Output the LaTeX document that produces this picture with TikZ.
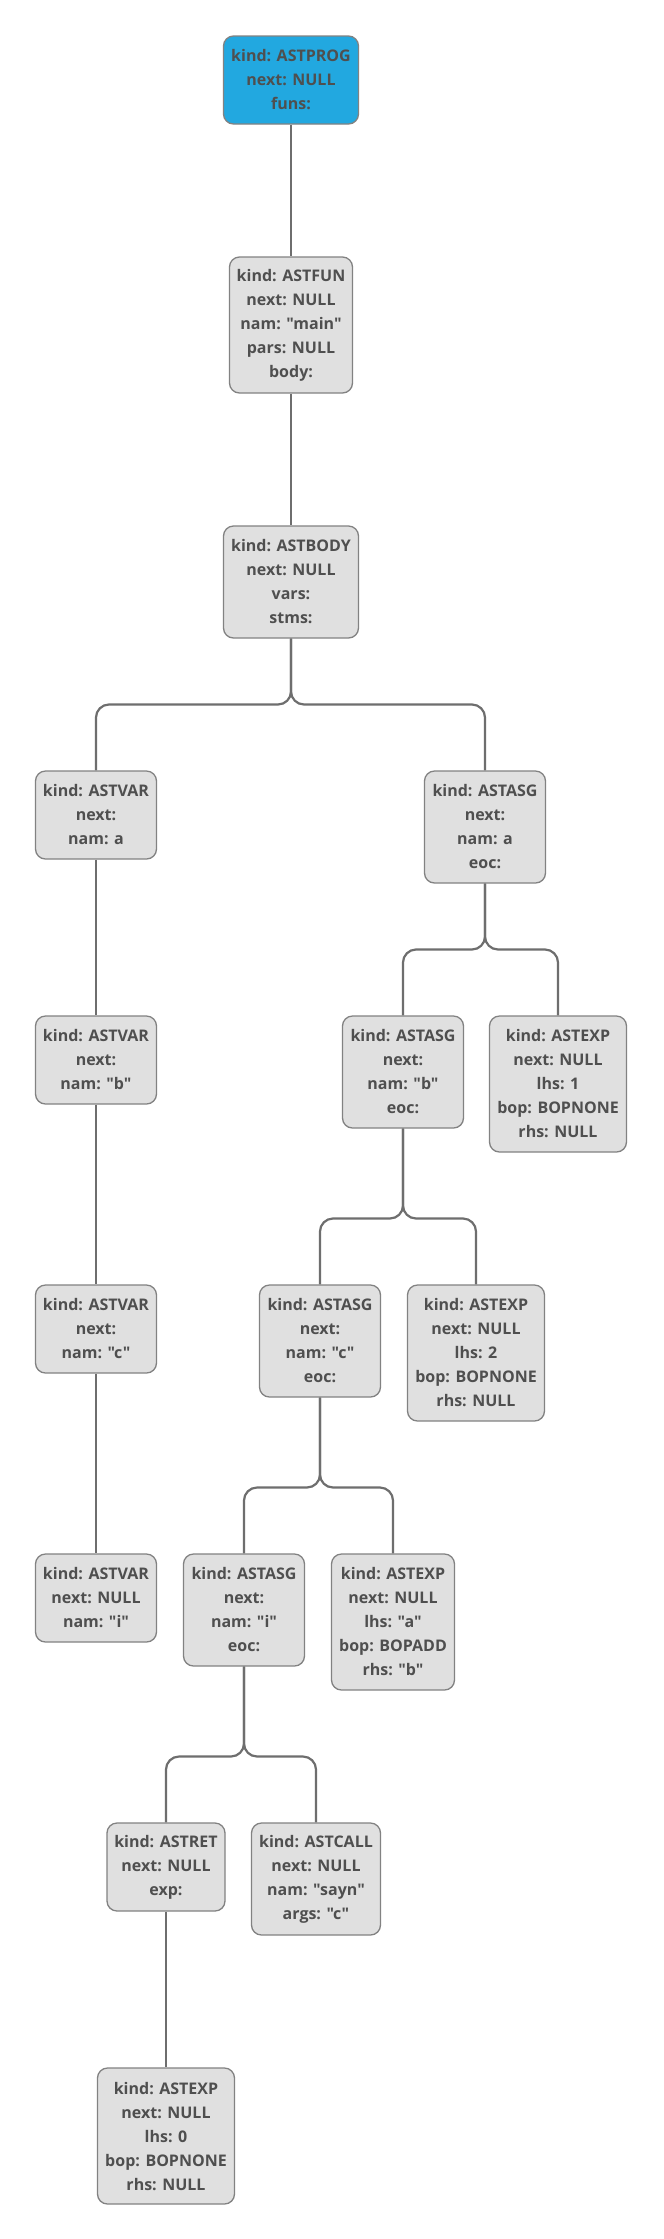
\documentclass[tikz,border=0pt]{standalone}
\usepackage{fontspec}
\setmainfont{Open Sans}[Ligatures=TeXOff]
\definecolor{boxfill}{HTML}{E0E0E0}
\definecolor{boxline}{HTML}{828282}
\definecolor{edgecol}{HTML}{6E6E6E}
\definecolor{txt}{HTML}{4F4F4F}
\definecolor{progblue}{HTML}{22A8E0}
\begin{document}
\begin{tikzpicture}[x=1pt,y=-1pt,
  box/.style n args={2}{draw=boxline, line width=1.3pt, fill=boxfill,
    rounded corners=10pt, align=center, text=txt,
    font=\fontsize{16}{24}\selectfont\bfseries, inner sep=0pt,
    minimum width=#1, minimum height=#2},
  edge/.style={draw=edgecol, line width=2.2pt, rounded corners=13pt}]
\useasboundingbox (0,0) rectangle (664,2239);
\fill[white] (0,0) rectangle (664,2239);
% rank 0-2
\node[box={135pt}{88pt}, fill=progblue] (prog) at (291,80) {kind: ASTPROG\\next: NULL\\funs:};
\node[box={123pt}{136pt}] (fun) at (291,325) {kind: ASTFUN\\next: NULL\\nam: "main"\\pars: NULL\\body:};
\node[box={135pt}{112pt}] (body) at (291,582) {kind: ASTBODY\\next: NULL\\vars:\\stms:};
% rank 3
\node[box={121pt}{88pt}] (vara) at (96,815) {kind: ASTVAR\\next:\\nam: a};
\node[box={121pt}{112pt}] (asga) at (485,827) {kind: ASTASG\\next:\\nam: a\\eoc:};
% rank 4
\node[box={121pt}{88pt}] (varb) at (96,1060) {kind: ASTVAR\\next:\\nam: "b"};
\node[box={121pt}{112pt}] (asgb) at (403,1072) {kind: ASTASG\\next:\\nam: "b"\\eoc:};
\node[box={137pt}{136pt}] (expa) at (558,1084) {kind: ASTEXP\\next: NULL\\lhs: 1\\bop: BOPNONE\\rhs: NULL};
% rank 5
\node[box={121pt}{88pt}] (varc) at (96,1329) {kind: ASTVAR\\next:\\nam: "c"};
\node[box={121pt}{112pt}] (asgc) at (320,1341) {kind: ASTASG\\next:\\nam: "c"\\eoc:};
\node[box={137pt}{136pt}] (expb) at (476,1353) {kind: ASTEXP\\next: NULL\\lhs: 2\\bop: BOPNONE\\rhs: NULL};
% rank 6
\node[box={121pt}{88pt}] (vari) at (96,1598) {kind: ASTVAR\\next: NULL\\nam: "i"};
\node[box={121pt}{112pt}] (asgi) at (244,1610) {kind: ASTASG\\next:\\nam: "i"\\eoc:};
\node[box={123pt}{136pt}] (expc) at (393,1622) {kind: ASTEXP\\next: NULL\\lhs: "a"\\bop: BOPADD\\rhs: "b"};
% rank 7
\node[box={118pt}{88pt}] (ret) at (166,1867) {kind: ASTRET\\next: NULL\\exp:};
\node[box={129pt}{112pt}] (call) at (316,1879) {kind: ASTCALL\\next: NULL\\nam: "sayn"\\args: "c"};
% rank 8
\node[box={137pt}{136pt}] (expd) at (166,2136) {kind: ASTEXP\\next: NULL\\lhs: 0\\bop: BOPNONE\\rhs: NULL};
% junction levels
\coordinate (j3) at (0,704.5);
\coordinate (j4) at (0,949.5);
\coordinate (j5) at (0,1218.5);
\coordinate (j6) at (0,1487.5);
\coordinate (j7) at (0,1756.5);
% edges
\draw[edge] (prog.south) -- (fun.north);
\draw[edge] (fun.south) -- (body.north);
\draw[edge] (body.south) -- (body.south |- j3) -| (vara.north);
\draw[edge] (body.south) -- (body.south |- j3) -| (asga.north);
\draw[edge] (vara.south) -- (varb.north);
\draw[edge] (varb.south) -- (varc.north);
\draw[edge] (varc.south) -- (vari.north);
\draw[edge] (asga.south) -- (asga.south |- j4) -| (asgb.north);
\draw[edge] (asga.south) -- (asga.south |- j4) -| (expa.north);
\draw[edge] (asgb.south) -- (asgb.south |- j5) -| (asgc.north);
\draw[edge] (asgb.south) -- (asgb.south |- j5) -| (expb.north);
\draw[edge] (asgc.south) -- (asgc.south |- j6) -| (asgi.north);
\draw[edge] (asgc.south) -- (asgc.south |- j6) -| (expc.north);
\draw[edge] (asgi.south) -- (asgi.south |- j7) -| (ret.north);
\draw[edge] (asgi.south) -- (asgi.south |- j7) -| (call.north);
\draw[edge] (ret.south) -- (expd.north);
\end{tikzpicture}
\end{document}
